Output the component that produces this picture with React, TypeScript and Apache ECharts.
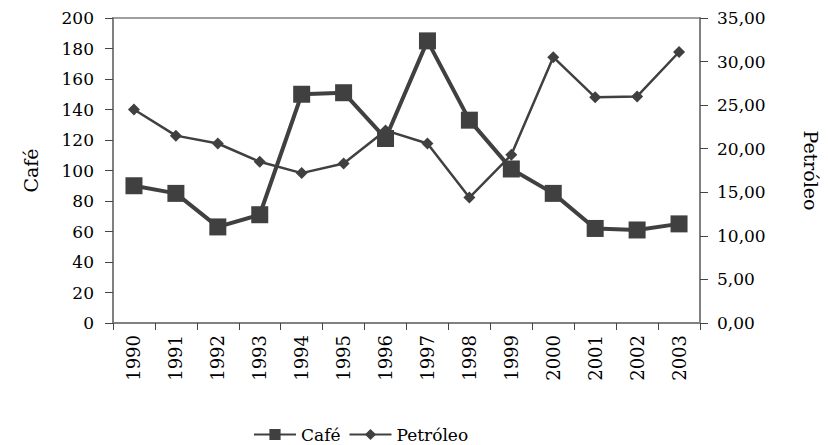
import React, { useEffect, useRef } from "react";
import * as echarts from "echarts";

const years = ["1990","1991","1992","1993","1994","1995","1996","1997","1998","1999","2000","2001","2002","2003"];
const cafe = [90, 85, 63, 71, 150, 151, 121, 185, 133, 101, 85, 62, 61, 65];
const petroleo = [24.5, 21.5, 20.6, 18.5, 17.2, 18.3, 22.1, 20.6, 14.4, 19.3, 30.5, 25.9, 26.0, 31.1];

const FONT = "DejaVu Serif";
const DARK = "#404040";
const AXIS = "#808080";

export default function App() {
  const ref = useRef<HTMLDivElement>(null);
  useEffect(() => {
    if (!ref.current) return;
    const chart = echarts.init(ref.current, undefined, { renderer: "svg" });
    chart.setOption({
      animation: false,
      backgroundColor: "#ffffff",
      textStyle: { fontFamily: FONT, color: "#000" },
      grid: { left: 113, right: 119, top: 18, height: 305, show: true, borderColor: AXIS, borderWidth: 1.5, backgroundColor: "transparent" },
      legend: {
        left: 248, top: 421, itemWidth: 42, itemHeight: 14, itemGap: 8,
        textStyle: { fontFamily: FONT, fontSize: 17, color: "#000" },
        data: ["Café", "Petróleo"],
      },
      xAxis: {
        type: "category", data: years, boundaryGap: true,
        axisLine: { lineStyle: { color: AXIS, width: 2 } },
        axisTick: { show: true, length: 7, lineStyle: { color: "#444" }, alignWithLabel: false },
        axisLabel: { rotate: 90, margin: 12, fontFamily: FONT, fontSize: 18, color: "#000" },
        splitLine: { show: false },
      },
      yAxis: [
        {
          type: "value", min: 0, max: 200, interval: 20, position: "left",
          name: "Café", nameLocation: "middle", nameGap: 73, nameRotate: 90,
          nameTextStyle: { fontFamily: FONT, fontSize: 19, color: "#000" },
          axisLine: { show: true, lineStyle: { color: AXIS, width: 2 } },
          axisTick: { show: true, length: 8, lineStyle: { color: "#444" } },
          axisLabel: { margin: 19, fontFamily: FONT, fontSize: 17, color: "#000" },
          splitLine: { show: false },
        },
        {
          type: "value", min: 0, max: 35, interval: 5, position: "right",
          name: "Petróleo", nameLocation: "middle", nameGap: 101, nameRotate: -90,
          nameTextStyle: { fontFamily: FONT, fontSize: 19, color: "#000" },
          axisLine: { show: true, lineStyle: { color: AXIS, width: 2 } },
          axisTick: { show: true, length: 8, lineStyle: { color: "#444" } },
          axisLabel: { margin: 17, fontFamily: FONT, fontSize: 17, color: "#000",
            formatter: (v: number) => v.toFixed(2).replace(".", ",") },
          splitLine: { show: false },
        },
      ],
      series: [
        {
          name: "Café", type: "line", yAxisIndex: 0, data: cafe,
          symbol: "rect", symbolSize: 17,
          lineStyle: { color: DARK, width: 4 },
          itemStyle: { color: DARK },
          z: 3,
        },
        {
          name: "Petróleo", type: "line", yAxisIndex: 1, data: petroleo,
          symbol: "diamond", symbolSize: 12,
          lineStyle: { color: DARK, width: 2.5 },
          itemStyle: { color: DARK },
          z: 2,
        },
      ],
    });
    return () => chart.dispose();
  }, []);
  return <div ref={ref} style={{ position: "absolute", left: 0, top: 0, width: 828, height: 445 }} />;
}
